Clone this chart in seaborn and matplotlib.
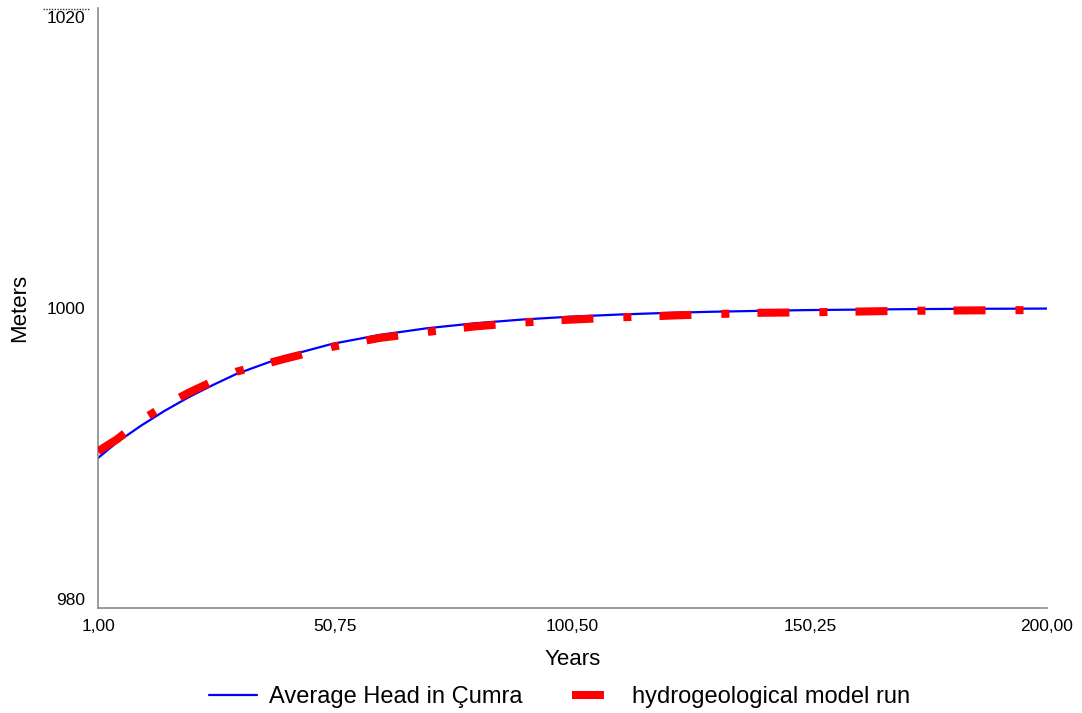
import matplotlib
matplotlib.use("Agg")
import matplotlib.pyplot as plt
from matplotlib.lines import Line2D
from matplotlib.transforms import ScaledTranslation
import seaborn as sns
import pandas as pd

# Simulated average head (m) over the simulation horizon
years = [1, 5, 10, 15, 20, 25, 30, 40, 50, 60, 70, 80, 90, 100,
         110, 120, 130, 140, 150, 160, 170, 180, 190, 200]
avg_head = [990.0, 991.05, 992.15, 993.15, 994.05, 994.85, 995.6, 996.75,
            997.6, 998.2, 998.65, 998.98, 999.23, 999.42, 999.56, 999.67,
            999.75, 999.81, 999.86, 999.89, 999.92, 999.94, 999.95, 999.96]
model_run = [990.45, 991.25, 992.5, 993.5, 994.35, 995.1, 995.75, 996.6,
             997.4, 998.0, 998.4, 998.77, 999.03, 999.22, 999.37, 999.48,
             999.59, 999.68, 999.71, 999.76, 999.81, 999.83, 999.85, 999.86]

series_names = ["Average Head in Çumra", "hydrogeological model run"]
x_ticks = [1.0, 50.75, 100.5, 150.25, 200.0]
y_ticks = [980, 1000, 1020]

sns.set_theme(style="white")
plt.rcParams["font.family"] = ["Liberation Sans", "DejaVu Sans"]
plt.rcParams["lines.scale_dashes"] = False
plt.rcParams["text.color"] = "black"
plt.rcParams["axes.labelcolor"] = "black"

df = pd.DataFrame({"year": years, "head": avg_head, "model": model_run})

fig = plt.figure(figsize=(10.82, 7.13), dpi=100)
ax = fig.add_axes([0.0906, 0.1473, 0.8771, 0.8415])

sns.lineplot(data=df, x="year", y="head", color="#0000ff", lw=1.6, ax=ax,
             label=series_names[0])
sns.lineplot(data=df, x="year", y="model", color="#ff0000", lw=5.8, ax=ax,
             label=series_names[1])
red = ax.lines[-1]
red.set_dashes([23, 21.6, 5.8, 20.2])
red.set_dash_capstyle("butt")
red.set_zorder(3)

ax.set_xlim(1, 200)
ax.set_ylim(980, 1020)

ax.set_xticks(x_ticks)
ax.set_xticklabels([f"{v:.2f}".replace(".", ",") for v in x_ticks])
ax.set_yticks(y_ticks)
ax.set_yticklabels([str(v) for v in y_ticks])

ax.tick_params(axis="both", length=0, labelsize=12.5, colors="black")
ax.tick_params(axis="y", pad=9)
ax.tick_params(axis="x", pad=8)

# keep the end labels inside the axis span
ylabels = ax.get_yticklabels()
ylabels[0].set_verticalalignment("bottom")
ylabels[-1].set_verticalalignment("top")
ylabels[-1].set_transform(ylabels[-1].get_transform()
                          + ScaledTranslation(0, -3.5 / 100, fig.dpi_scale_trans))

ax.set_xlabel("Years", fontsize=16, labelpad=11)
ax.set_ylabel("Meters", fontsize=16, labelpad=12)

sns.despine(ax=ax)
for side in ("left", "bottom"):
    ax.spines[side].set_color("#8a8a8a")
    ax.spines[side].set_linewidth(1.2)

# dotted rule above the top tick label
fig.add_artist(Line2D([43 / 1082, 89 / 1082], [1 - 8.5 / 713, 1 - 8.5 / 713],
                      transform=fig.transFigure, color="#333333", lw=1.0,
                      linestyle=(0, (1, 1))))

handles, labels = ax.get_legend_handles_labels()
ax.legend(handles, labels, loc="center", bbox_to_anchor=(0.517, 0.0224),
          bbox_transform=fig.transFigure, ncol=2, frameon=False,
          fontsize=17, handlelength=2.05, handletextpad=0.5,
          columnspacing=2.1)

fig.savefig("out.png", dpi=100)
